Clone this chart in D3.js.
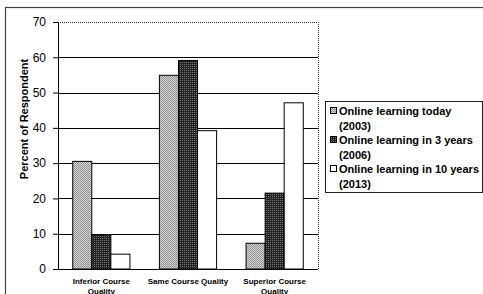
<!DOCTYPE html>
<meta charset="utf-8">
<head>
  <title>Course quality chart</title>
</head>
<style>
  body { margin: 0; background: #fff; }
  svg { display: block; }
  .tick text { font-family: "Liberation Sans", Arial, sans-serif; font-size: 12px; fill: #000; }
  .lbl { font-family: "Liberation Sans", Arial, sans-serif; font-weight: bold; fill: #000; }
</style>
<body>
<svg id="chart" width="483" height="294"></svg>
<script src="https://cdnjs.cloudflare.com/ajax/libs/d3/7.8.5/d3.min.js"></script>
<script>
var categories = ["Inferior Course|Quality", "Same Course Quality", "Superior Course|Quality"];
var seriesNames = ["Online learning today|(2003)", "Online learning in 3 years|(2006)", "Online learning in 10 years|(2013)"];
var today2003 = [30.5, 54.9, 7.3];
var in3years2006 = [9.7, 59.1, 21.5];
var in10years2013 = [4.2, 39.2, 47.1];
var yTicks = [0, 10, 20, 30, 40, 50, 60, 70];

var series = [today2003, in3years2006, in10years2013];
var fills = ["url(#light)", "url(#dark)", "#fff"];

var svg = d3.select("#chart");
var defs = svg.append("defs");

// stippled light grey
var p1 = defs.append("pattern").attr("id", "light").attr("width", 2).attr("height", 2)
  .attr("patternUnits", "userSpaceOnUse");
p1.append("rect").attr("width", 2).attr("height", 2).attr("fill", "#d4d4d4");
p1.append("rect").attr("width", 1).attr("height", 1).attr("fill", "#8a8a8a");
p1.append("rect").attr("x", 1).attr("y", 1).attr("width", 1).attr("height", 1).attr("fill", "#9a9a9a");

// dark checker
var p2 = defs.append("pattern").attr("id", "dark").attr("width", 2).attr("height", 2)
  .attr("patternUnits", "userSpaceOnUse");
p2.append("rect").attr("width", 2).attr("height", 2).attr("fill", "#222");
p2.append("rect").attr("width", 1).attr("height", 1).attr("fill", "#777");

// outer frame
svg.append("rect").attr("x", 5.5).attr("y", 7.5).attr("width", 490).attr("height", 300)
  .attr("fill", "none").attr("stroke", "#444").attr("stroke-width", 1.2);

var pLeft = 58, pRight = 318, pTop = 22, pBottom = 269;

var x = d3.scaleBand().domain(categories).range([pLeft, pRight])
  .paddingInner(0.34).paddingOuter(0.17);
var xs = d3.scaleBand().domain([0, 1, 2]).range([0, x.bandwidth()]);
var y = d3.scaleLinear().domain([0, 70]).range([pBottom, pTop]);

// gridlines
svg.append("g").selectAll("line").data(yTicks.filter(function(d) { return d > 0 && d < 70; }))
  .enter().append("line")
  .attr("x1", pLeft).attr("x2", pRight)
  .attr("y1", function(d) { return Math.round(y(d)) + 0.5; })
  .attr("y2", function(d) { return Math.round(y(d)) + 0.5; })
  .attr("stroke", "#000").attr("stroke-width", 1);

// dotted plot border top/right
svg.append("path")
  .attr("d", "M" + pLeft + "," + (pTop + 0.5) + "H" + (pRight + 0.5) + "V" + pBottom)
  .attr("fill", "none").attr("stroke", "#333").attr("stroke-dasharray", "1,1");

// bars
series.forEach(function(vals, si) {
  svg.append("g").selectAll("rect").data(vals).enter().append("rect")
    .attr("x", function(d, i) { return x(categories[i]) + xs(si); })
    .attr("width", xs.bandwidth())
    .attr("y", function(d) { return y(d); })
    .attr("height", function(d) { return pBottom - y(d); })
    .attr("fill", fills[si])
    .attr("stroke", "#000").attr("stroke-width", 1);
});

// y axis
var yAxis = svg.append("g").attr("transform", "translate(" + pLeft + ",0)")
  .call(d3.axisLeft(y).tickValues(yTicks).tickSize(5).tickPadding(7));
yAxis.selectAll("line, path").attr("stroke", "#000");

// x axis baseline
svg.append("line").attr("x1", pLeft).attr("x2", pRight).attr("y1", pBottom + 0.5).attr("y2", pBottom + 0.5)
  .attr("stroke", "#000");

// category labels
categories.forEach(function(c) {
  var lines = c.split("|");
  var t = svg.append("text").attr("class", "lbl").attr("font-size", 8)
    .attr("text-anchor", "middle")
    .attr("x", x(c) + x.bandwidth() / 2).attr("y", 284);
  lines.forEach(function(l, i) {
    t.append("tspan").attr("x", x(c) + x.bandwidth() / 2).attr("dy", i === 0 ? 0 : 10).text(l);
  });
});

// y title
svg.append("text").attr("class", "lbl").attr("font-size", 11)
  .attr("text-anchor", "middle")
  .attr("transform", "translate(28,119) rotate(-90)")
  .text("Percent of Respondent");

// legend
var lg = svg.append("g").attr("transform", "translate(325,101)");
lg.append("rect").attr("x", 0.5).attr("y", 0.5).attr("width", 157).attr("height", 91)
  .attr("fill", "#fff").attr("stroke", "#222");
seriesNames.forEach(function(n, i) {
  var ty = 14 + i * 29;
  lg.append("rect").attr("x", 5.5).attr("y", ty - 7.5).attr("width", 6).attr("height", 6)
    .attr("fill", fills[i]).attr("stroke", "#000");
  var lines = n.split("|");
  var t = lg.append("text").attr("class", "lbl").attr("font-size", 11).attr("y", ty);
  lines.forEach(function(l, j) {
    t.append("tspan").attr("x", 14).attr("dy", j === 0 ? 0 : 14.5).text(l);
  });
});
</script>
</body>
</html>
